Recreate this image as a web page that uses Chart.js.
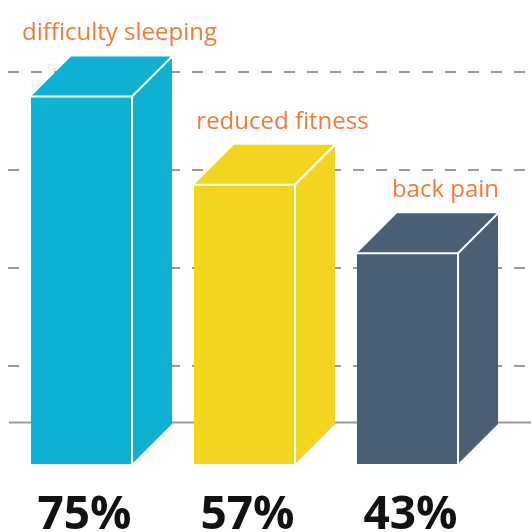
<!DOCTYPE html>
<html>
<head>
<meta charset="utf-8">
<script src="https://cdn.jsdelivr.net/npm/chart.js@4.4.1/dist/chart.umd.min.js"></script>
<style>
  html, body { margin: 0; padding: 0; background: #fff; }
  #wrap { width: 531px; height: 532px; }
</style>
</head>
<body>
<div id="wrap"><canvas id="myChart"></canvas></div>
<script>
// chart data
const categories = ['difficulty sleeping', 'reduced fitness', 'back pain'];
const values = [75, 57, 43];
const percentLabels = ['75%', '57%', '43%'];
const gridValues = [20, 40, 60, 80];

const barColors = ['#0fb1d2', '#f3d51f', '#4a5e75'];
const labelColor = '#f27a36';
const depth = 40;   // 3D offset in px

// draws the dashed gridlines + floor line behind the bars,
// then the top/side faces and the texts on top
const threeD = {
    id: 'threeD',
    beforeDatasetsDraw(chart) {
        const ctx = chart.ctx;
        const y = chart.scales.y;
        const w = chart.width;
        ctx.save();
        ctx.strokeStyle = '#9b9b9b';
        ctx.lineWidth = 2;
        ctx.setLineDash([11, 12]);
        gridValues.forEach(v => {
            const py = Math.round(y.getPixelForValue(v));
            ctx.beginPath();
            ctx.moveTo(8, py);
            ctx.lineTo(w, py);
            ctx.stroke();
        });
        // floor line = baseline pushed back by the depth
        ctx.setLineDash([]);
        const fy = Math.round(y.getPixelForValue(0)) - depth - 1.5;
        ctx.beginPath();
        ctx.moveTo(9, fy);
        ctx.lineTo(w, fy);
        ctx.stroke();
        ctx.restore();
    },
    afterDatasetsDraw(chart) {
        const ctx = chart.ctx;
        const meta = chart.getDatasetMeta(0);
        ctx.save();
        meta.data.forEach((bar, i) => {
            const left = bar.x - bar.width / 2;
            const right = bar.x + bar.width / 2;
            const top = bar.y;
            const base = bar.base;
            ctx.fillStyle = barColors[i];
            // top face
            ctx.beginPath();
            ctx.moveTo(left, top);
            ctx.lineTo(left + depth, top - depth);
            ctx.lineTo(right + depth, top - depth);
            ctx.lineTo(right, top);
            ctx.closePath();
            ctx.fill();
            // side face
            ctx.beginPath();
            ctx.moveTo(right, top);
            ctx.lineTo(right + depth, top - depth);
            ctx.lineTo(right + depth, base - depth);
            ctx.lineTo(right, base);
            ctx.closePath();
            ctx.fill();
            // white edges
            ctx.strokeStyle = '#ffffff';
            ctx.lineWidth = 2;
            ctx.beginPath();
            ctx.moveTo(left, top);
            ctx.lineTo(right, top);
            ctx.lineTo(right, base);
            ctx.moveTo(right, top);
            ctx.lineTo(right + depth, top - depth);
            ctx.stroke();

            // category label above the box
            ctx.fillStyle = labelColor;
            ctx.font = '24px "Open Sans", sans-serif';
            ctx.textAlign = 'center';
            ctx.textBaseline = 'middle';
            ctx.fillText(categories[i], bar.x + 38, top - depth - 23);

            // big percentage below
            ctx.fillStyle = '#111111';
            ctx.font = 'bold 46px "Open Sans", sans-serif';
            ctx.textBaseline = 'alphabetic';
            ctx.fillText(percentLabels[i], bar.x + 3, 529);
        });
        ctx.restore();
    }
};

const config = {
    type: 'bar',
    data: {
        labels: categories,
        datasets: [{
            data: values,
            backgroundColor: barColors,
            borderWidth: 0,
            barPercentage: 1,
            categoryPercentage: 0.62
        }]
    },
    options: {
        responsive: true,
        maintainAspectRatio: false,
        animation: false,
        layout: {
            padding: { top: 23, bottom: 68, left: 0, right: 42 }
        },
        plugins: {
            legend: { display: false },
            tooltip: { enabled: false }
        },
        scales: {
            x: { display: false },
            y: { display: false, min: 0, max: 90 }
        }
    },
    plugins: [threeD]
};

new Chart(document.querySelector('#myChart').getContext('2d'), config);
</script>
</body>
</html>
